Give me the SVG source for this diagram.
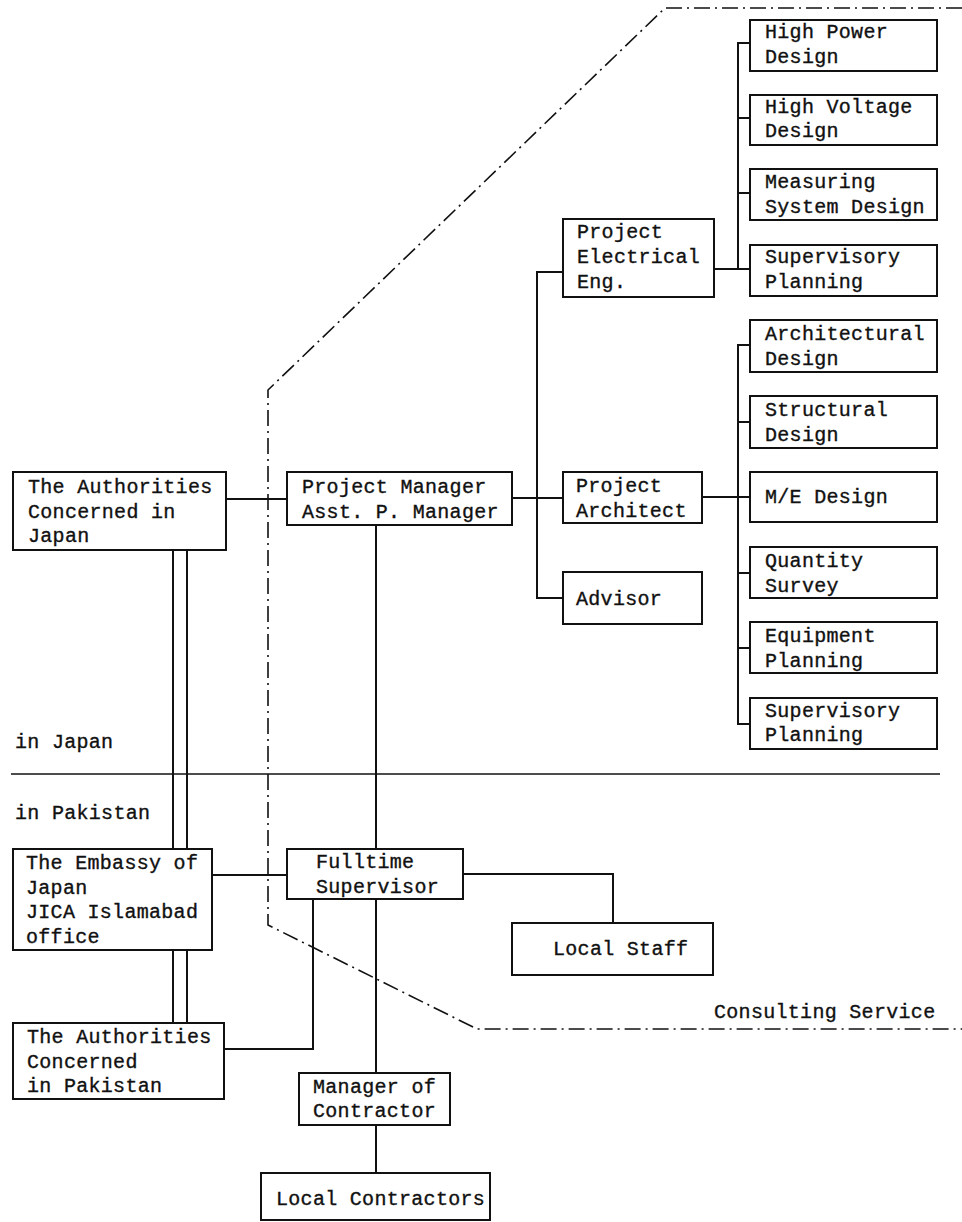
<svg xmlns="http://www.w3.org/2000/svg" width="962" height="1222" viewBox="0 0 962 1222">
<style>
.b{fill:none;stroke:#111;stroke-width:2}
.c{fill:none;stroke:#111;stroke-width:2}
.d{fill:none;stroke:#111;stroke-width:1.6;stroke-dasharray:16 5 2 5}
.s{fill:none;stroke:#111;stroke-width:1.6}
text{font-family:"Liberation Mono","Courier New",monospace;font-size:20px;letter-spacing:0.3px;fill:#111;stroke:#111;stroke-width:0.35}
</style>
<rect width="962" height="1222" fill="#fff"/>
<g id="boundary">
<path class="d" d="M962,8 L665,8 L268,390 L268,925 L477,1029 L962,1029"/>
<line class="s" x1="11" y1="774" x2="940" y2="774"/>
</g>
<g id="connectors">
<path class="c" d="M226,499 H287"/>
<path class="c" d="M173,550 V849 M187,550 V849"/>
<path class="c" d="M173,950 V1023 M187,950 V1023"/>
<path class="c" d="M376,525 V849"/>
<path class="c" d="M212,875 H287"/>
<path class="c" d="M463,874 H613 V923"/>
<path class="c" d="M313,899 V1049 H224"/>
<path class="c" d="M376,899 V1073"/>
<path class="c" d="M376,1125 V1173"/>
<path class="c" d="M512,498 H563"/>
<path class="c" d="M563,272 H537 V598 H563"/>
<path class="c" d="M702,497 H750"/>
<path class="c" d="M714,269 H750"/>
<path class="c" d="M750,43 H738 V269"/>
<path class="c" d="M738,118 H750 M738,193 H750"/>
<path class="c" d="M750,345 H738 V724 H750"/>
<path class="c" d="M738,422 H750 M738,573 H750 M738,648 H750"/>
</g>
<g id="auth-japan"><rect class="b" x="13" y="472" width="213" height="78"/><text x="28" y="493">The Authorities</text><text x="28" y="518">Concerned in</text><text x="28" y="542">Japan</text></g>
<g id="project-manager"><rect class="b" x="287" y="472" width="225" height="53"/><text x="302" y="493">Project Manager</text><text x="302" y="518">Asst. P. Manager</text></g>
<g id="project-electrical"><rect class="b" x="563" y="219" width="151" height="78"/><text x="577" y="238">Project</text><text x="577" y="263">Electrical</text><text x="577" y="288">Eng.</text></g>
<g id="project-architect"><rect class="b" x="563" y="472" width="139" height="51"/><text x="576" y="492">Project</text><text x="576" y="517">Architect</text></g>
<g id="advisor"><rect class="b" x="563" y="572" width="139" height="52"/><text x="576" y="605">Advisor</text></g>
<g id="high-power"><rect class="b" x="750" y="20" width="187" height="51"/><text x="765" y="38">High Power</text><text x="765" y="63">Design</text></g>
<g id="high-voltage"><rect class="b" x="750" y="95" width="187" height="50"/><text x="765" y="113">High Voltage</text><text x="765" y="137">Design</text></g>
<g id="measuring"><rect class="b" x="750" y="169" width="187" height="51"/><text x="765" y="188">Measuring</text><text x="765" y="213">System Design</text></g>
<g id="supervisory-1"><rect class="b" x="750" y="245" width="187" height="51"/><text x="765" y="263">Supervisory</text><text x="765" y="288">Planning</text></g>
<g id="architectural"><rect class="b" x="750" y="320" width="187" height="52"/><text x="765" y="340">Architectural</text><text x="765" y="365">Design</text></g>
<g id="structural"><rect class="b" x="750" y="396" width="187" height="52"/><text x="765" y="416">Structural</text><text x="765" y="441">Design</text></g>
<g id="me-design"><rect class="b" x="750" y="472" width="187" height="50"/><text x="765" y="503">M/E Design</text></g>
<g id="quantity"><rect class="b" x="750" y="547" width="187" height="51"/><text x="765" y="567">Quantity</text><text x="765" y="592">Survey</text></g>
<g id="equipment"><rect class="b" x="750" y="622" width="187" height="51"/><text x="765" y="642">Equipment</text><text x="765" y="667">Planning</text></g>
<g id="supervisory-2"><rect class="b" x="750" y="698" width="187" height="51"/><text x="765" y="717">Supervisory</text><text x="765" y="741">Planning</text></g>
<g id="embassy"><rect class="b" x="13" y="849" width="199" height="101"/><text x="26" y="869">The Embassy of</text><text x="26" y="894">Japan</text><text x="26" y="918">JICA Islamabad</text><text x="26" y="943">office</text></g>
<g id="fulltime-supervisor"><rect class="b" x="287" y="849" width="176" height="50"/><text x="316" y="868">Fulltime</text><text x="316" y="893">Supervisor</text></g>
<g id="local-staff"><rect class="b" x="512" y="923" width="201" height="52"/><text x="553" y="955">Local Staff</text></g>
<g id="auth-pakistan"><rect class="b" x="13" y="1023" width="211" height="76"/><text x="27" y="1043">The Authorities</text><text x="27" y="1068">Concerned</text><text x="27" y="1092">in Pakistan</text></g>
<g id="manager-contractor"><rect class="b" x="299" y="1073" width="151" height="52"/><text x="313" y="1093">Manager of</text><text x="313" y="1117">Contractor</text></g>
<g id="local-contractors"><rect class="b" x="261" y="1173" width="229" height="47"/><text x="276" y="1205">Local Contractors</text></g>
<g id="labels"><text x="15" y="748">in Japan</text><text x="15" y="819">in Pakistan</text><text x="714" y="1018">Consulting Service</text></g>
</svg>
